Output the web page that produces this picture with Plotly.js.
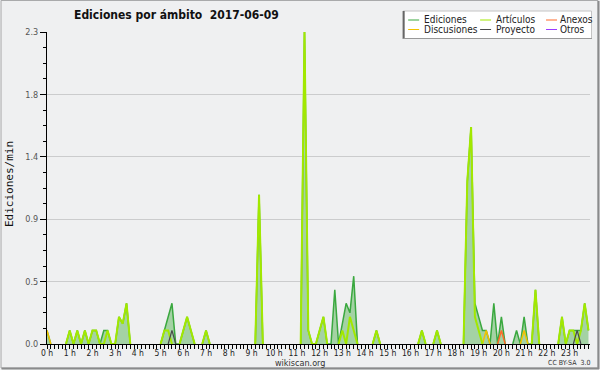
<!DOCTYPE html>
<html><head><meta charset="utf-8">
<script src="https://cdn.plot.ly/plotly-3.0.1.min.js"></script>
<style>html,body{margin:0;padding:0;background:#eff0f1}#chart{width:600px;height:370px}</style>
</head><body><div id="chart"></div>
<script>
// 10-minute bins over the day (144 bins), values in edits/min
const hourLabels = ["0 h","1 h","2 h","3 h","4 h","5 h","6 h","7 h","8 h","9 h","10 h","11 h","12 h","13 h","14 h","15 h","16 h","17 h","18 h","19 h","20 h","21 h","22 h","23 h"];
const yTickText = ["0.0","0.5","0.9","1.4","1.8","2.3"];
const seriesNames = ["Ediciones","Artículos","Anexos","Discusiones","Proyecto","Otros"];
const seriesColors = ["#3aa83f","#a2e800","#ff6a2a","#f2c200","#4a4a4a","#9b3cff"];

const ediciones = [
 0.1,0,0,0,0,0, 0.1,0,0.1,0,0.1,0,
 0.1,0.1,0,0.1,0.1,0, 0,0.2,0.15,0.3,0,0,
 0,0,0,0,0,0, 0,0.1,0.2,0.3,0,0,
 0.1,0.2,0.1,0,0,0, 0.1,0,0,0,0,0,
 0,0,0,0,0,0, 0,0,1.1,0,0,0,
 0,0,0,0,0,0, 0,0,2.3,0.1,0,0,
 0.1,0.2,0,0,0.4,0, 0.15,0.3,0.23,0.5,0,0,
 0,0,0,0.1,0,0, 0,0,0,0,0,0,
 0,0,0,0.1,0,0, 0,0.1,0,0,0,0,
 0,0,0,1.2,1.6,0.3, 0.2,0.1,0.1,0,0.3,0,
 0.2,0,0,0,0.1,0, 0.2,0,0,0.4,0,0,
 0,0,0,0,0.2,0, 0.1,0.1,0.1,0.1,0.3,0.1
];
const articulos = [
 0,0,0,0,0,0, 0.1,0,0.1,0,0.1,0,
 0.1,0.1,0,0,0.1,0, 0,0.2,0.15,0.3,0,0,
 0,0,0,0,0,0, 0,0.1,0.1,0,0,0,
 0.1,0.2,0.1,0,0,0, 0.1,0,0,0,0,0,
 0,0,0,0,0,0, 0,0,1.1,0,0,0,
 0,0,0,0,0,0, 0,0,2.3,0.1,0,0,
 0.1,0.2,0,0,0,0, 0.1,0,0.2,0.1,0,0,
 0,0,0,0.1,0,0, 0,0,0,0,0,0,
 0,0,0,0.1,0,0, 0,0.1,0,0,0,0,
 0,0,0,1.2,1.6,0.2, 0.1,0,0,0,0,0,
 0,0,0,0,0,0, 0,0,0,0.4,0,0,
 0,0,0,0,0.2,0, 0.1,0.1,0,0.1,0.3,0.1
];
const anexos = [
 0,0,0,0,0,0, 0,0,0,0,0,0,
 0,0,0,0,0,0, 0,0,0,0,0,0,
 0,0,0,0,0,0, 0,0,0,0,0,0,
 0,0,0,0,0,0, 0,0,0,0,0,0,
 0,0,0,0,0,0, 0,0,0,0,0,0,
 0,0,0,0,0,0, 0,0,0,0,0,0,
 0,0,0,0,0,0, 0,0,0,0,0,0,
 0,0,0,0,0,0, 0,0,0,0,0,0,
 0,0,0,0,0,0, 0,0,0,0,0,0,
 0,0,0,0,0,0, 0,0,0,0,0,0,
 0.1,0,0,0,0,0, 0,0,0,0,0,0,
 0,0,0,0,0,0, 0,0,0,0,0,0
];
const discusiones = [
 0.1,0,0,0,0,0, 0,0,0,0,0,0,
 0,0,0,0,0,0, 0,0,0,0,0,0,
 0,0,0,0,0,0, 0,0,0,0,0,0,
 0,0,0,0,0,0, 0,0,0,0,0,0,
 0,0,0,0,0,0, 0,0,0,0,0,0,
 0,0,0,0,0,0, 0,0,0,0,0,0,
 0,0,0,0,0,0, 0,0,0,0,0,0,
 0,0,0,0,0,0, 0,0,0,0,0,0,
 0,0,0,0,0,0, 0,0,0,0,0,0,
 0,0,0,0,0,0, 0,0,0.1,0,0,0,
 0,0,0,0,0,0, 0.1,0,0,0,0,0,
 0,0,0,0,0,0, 0,0,0,0,0,0
];
const proyecto = [
 0,0,0,0,0,0, 0,0,0,0,0,0,
 0,0,0,0,0,0, 0,0,0,0,0,0,
 0,0,0,0,0,0, 0,0,0,0.1,0,0,
 0,0,0,0,0,0, 0,0,0,0,0,0,
 0,0,0,0,0,0, 0,0,0,0,0,0,
 0,0,0,0,0,0, 0,0,0,0,0,0,
 0,0,0,0,0,0, 0,0,0,0,0,0,
 0,0,0,0,0,0, 0,0,0,0,0,0,
 0,0,0,0,0,0, 0,0,0,0,0,0,
 0,0,0,0,0,0, 0,0,0,0,0,0,
 0,0,0,0,0,0, 0,0,0,0,0,0,
 0,0,0,0,0,0, 0,0,0.1,0,0,0
];
const otros = new Array(144).fill(0); // no "Otros" edits visible on this day

// time axis: bin start in hours
const hours = ediciones.map((_, i) => i / 6);

// hide the flat zero runs (they would be painted over the baseline)
function visible(arr) {
  return arr.map((v, i) => (v > 0 || arr[i - 1] > 0 || arr[i + 1] > 0) ? v : null);
}

const W = 600, H = 370, L = 46.5, R = 10, T = 32, B = 26;
const w = W - L - R, h = H - T - B;
const px = x => (x - L) / w;
const py = y => (H - B - y) / h;

const traces = [
  {x: hours, y: visible(ediciones), mode: 'lines', line: {color: seriesColors[0], width: 1.5},
   fill: 'tozeroy', fillcolor: 'rgba(150,205,150,0.85)', connectgaps: false, name: seriesNames[0]},
  {x: hours, y: visible(discusiones), mode: 'lines', line: {color: seriesColors[3], width: 1.5}, connectgaps: false, name: seriesNames[3]},
  {x: hours, y: visible(anexos), mode: 'lines', line: {color: seriesColors[2], width: 1.5}, connectgaps: false, name: seriesNames[2]},
  {x: hours, y: visible(otros), mode: 'lines', line: {color: seriesColors[5], width: 1.5}, connectgaps: false, name: seriesNames[5]},
  {x: hours, y: visible(articulos), mode: 'lines', line: {color: seriesColors[1], width: 2}, connectgaps: false, name: seriesNames[1]},
  {x: hours, y: visible(proyecto), mode: 'lines', line: {color: seriesColors[4], width: 1.2}, connectgaps: false, name: seriesNames[4]}
];

// manual legend (3 columns x 2 rows)
const legendCols = [408, 480, 546];
const legendTextX = [424, 496, 560];
const legendRows = [20, 29.5];
const legendOrder = [[0, 1, 2], [3, 4, 5]];
const shapes = [
  {type: 'rect', xref: 'paper', yref: 'paper', x0: px(0.5), x1: px(598), y0: py(0.5), y1: py(368),
   line: {color: '#a9aaab', width: 1}, fillcolor: 'rgba(0,0,0,0)', layer: 'below'},
  {type: 'line', xref: 'paper', yref: 'paper', x0: px(598.5), x1: px(598.5), y0: py(1), y1: py(369), line: {color: '#8a8b8c', width: 2}},
  {type: 'line', xref: 'paper', yref: 'paper', x0: px(1), x1: px(599), y0: py(368.5), y1: py(368.5), line: {color: '#8a8b8c', width: 2}},
  {type: 'rect', xref: 'paper', yref: 'paper', x0: px(403), x1: px(591.5), y0: py(11), y1: py(38.5),
   line: {color: '#c4c4c4', width: 1}, fillcolor: '#ffffff'},
  {type: 'line', xref: 'paper', yref: 'paper', x0: px(403.5), x1: px(403.5), y0: py(11), y1: py(39), line: {color: '#666', width: 2}},
  {type: 'line', xref: 'paper', yref: 'paper', x0: px(403), x1: px(592), y0: py(38.5), y1: py(38.5), line: {color: '#999', width: 1}}
];
const annotations = [];
legendOrder.forEach((row, ri) => row.forEach((si, ci) => {
  shapes.push({type: 'line', xref: 'paper', yref: 'paper', x0: px(legendCols[ci]), x1: px(legendCols[ci] + 11),
    y0: py(legendRows[ri]), y1: py(legendRows[ri]), line: {color: seriesColors[si], width: 1}});
  annotations.push({xref: 'paper', yref: 'paper', x: px(legendTextX[ci] - 2), y: py(legendRows[ri]),
    xanchor: 'left', yanchor: 'middle', showarrow: false, text: seriesNames[si],
    font: {family: 'DejaVu Sans Condensed, DejaVu Sans', size: 10, color: '#222'}});
}));
annotations.push({xref: 'paper', yref: 'paper', x: px(8.5), y: py(184), xanchor: 'center', yanchor: 'middle',
  textangle: -90, showarrow: false,
  text: 'Ediciones/min', font: {family: 'DejaVu Sans Mono', size: 11, color: '#111'}});
annotations.push({xref: 'paper', yref: 'paper', x: px(300), y: py(363), xanchor: 'center', yanchor: 'middle', showarrow: false,
  borderpad: 0, text: 'wikiscan.org', font: {family: 'DejaVu Sans Condensed, DejaVu Sans', size: 9, color: '#333'}});
annotations.push({xref: 'paper', yref: 'paper', x: px(569), y: py(363), xanchor: 'center', yanchor: 'middle', showarrow: false,
  borderpad: 0, text: 'CC BY-SA  3.0', font: {family: 'DejaVu Sans Condensed, DejaVu Sans', size: 7, color: '#333'}});

const layout = {
  width: W, height: H,
  margin: {l: L, r: R, t: T, b: B},
  paper_bgcolor: '#eff0f1', plot_bgcolor: '#eff0f1',
  showlegend: false,
  title: {text: 'Ediciones por ámbito\u00a0 2017-06-09', xref: 'container', yref: 'container',
    x: 74 / W, xanchor: 'left', y: 1 - 14.5 / H, yanchor: 'middle',
    font: {family: 'DejaVu Sans Condensed, DejaVu Sans', size: 12, weight: 'bold', color: '#111'}},
  xaxis: {range: [0, 23.9], showgrid: false, zeroline: false, showline: true, linecolor: '#000', linewidth: 1,
    tickmode: 'array', tickvals: hourLabels.map((_, i) => i), ticktext: hourLabels,
    ticks: 'outside', ticklen: 4, tickcolor: '#000', tickwidth: 1, ticklabelstandoff: -3,
    minor: {dtick: 1 / 6, tick0: 0, ticks: 'outside', ticklen: 4, tickcolor: '#000', tickwidth: 1, showgrid: false},
    tickfont: {family: 'DejaVu Sans Condensed, DejaVu Sans', size: 8.5, color: '#222'}, fixedrange: true},
  yaxis: {range: [0, 2.3001], showgrid: true, gridcolor: '#cbcccd', gridwidth: 1, zeroline: false,
    showline: true, linecolor: '#000', linewidth: 1,
    tickmode: 'array', tickvals: yTickText.map((_, i) => i * 0.46), ticktext: yTickText,
    ticks: 'outside', ticklen: 6, tickcolor: '#000', tickwidth: 1,
    minor: {dtick: 0.115, tick0: 0, ticks: 'outside', ticklen: 3, tickcolor: '#000', tickwidth: 1, showgrid: false},
    tickfont: {family: 'DejaVu Sans Condensed, DejaVu Sans', size: 9, color: '#555'}, fixedrange: true},
  shapes: shapes,
  annotations: annotations
};

Plotly.newPlot('chart', traces, layout, {displayModeBar: false, staticPlot: true});
</script>
</body></html>
